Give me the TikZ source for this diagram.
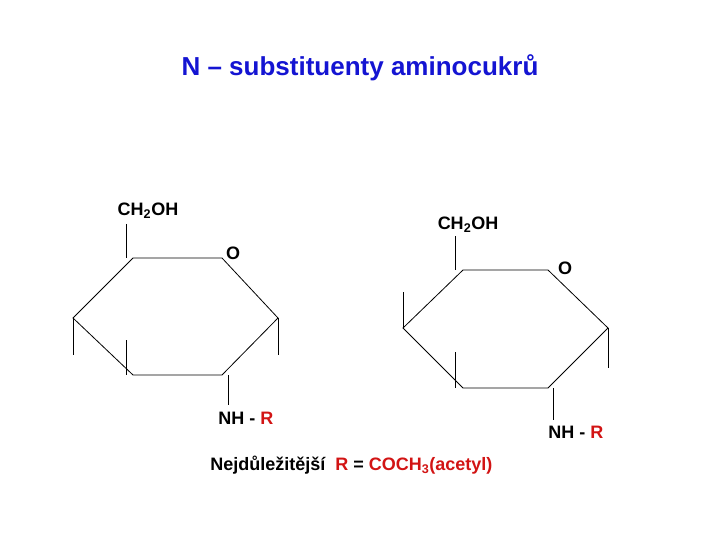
\documentclass[tikz,border=0pt]{standalone}
\usepackage{fontspec}
\setmainfont{Liberation Sans}
\definecolor{titleblue}{RGB}{20,20,210}
\definecolor{rred}{RGB}{210,20,20}
\tikzset{lbl/.style={font=\bfseries\fontsize{18}{21}\selectfont,inner sep=0pt}}
\begin{document}
\begin{tikzpicture}[x=1pt,y=-1pt,line width=0.8pt]
    \useasboundingbox (0,0) rectangle (720,540);

    \node[font=\bfseries\fontsize{26}{30}\selectfont,text=titleblue](title) at (360,68) {N -- substituenty aminocukrů};

    % left ring
    \coordinate (la) at (73,318);
    \coordinate (lb) at (133,258);
    \coordinate (lc) at (222,258);
    \coordinate (ld) at (278,318);
    \coordinate (le) at (222,375);
    \coordinate (lf) at (133,375);
    \draw (la) -- (lb) -- (lc) -- (ld) -- (le) -- (lf) -- cycle;
    \node[lbl](lch) at (148,211) {CH\textsubscript{2}OH};
    \node[lbl](lo) at (233,253) {O};
    \node[lbl,anchor=west](lnh) at (218,418) {NH - \textcolor{rred}{R}};
    \draw (126,224) -- (126,258);
    \draw (73,318) -- (73,355);
    \draw (278,318) -- (278,355);
    \draw (126,340) -- (126,375);
    \draw (228,375) -- (228,405);

    % right ring
    \coordinate (ra) at (403,328);
    \coordinate (rb) at (463,270);
    \coordinate (rc) at (548,270);
    \coordinate (rd) at (608,328);
    \coordinate (re) at (548,388);
    \coordinate (rf) at (463,388);
    \draw (ra) -- (rb) -- (rc) -- (rd) -- (re) -- (rf) -- cycle;
    \node[lbl](rch) at (468,225) {CH\textsubscript{2}OH};
    \node[lbl](ro) at (565,268) {O};
    \node[lbl,anchor=west](rnh) at (548,432) {NH - \textcolor{rred}{R}};
    \draw (455,236) -- (455,270);
    \draw (403,292) -- (403,328);
    \draw (608,328) -- (608,368);
    \draw (455,352) -- (455,388);
    \draw (553,388) -- (553,420);

    \node[lbl,anchor=west](note) at (210,465) {Nejdůležitější\ \ \textcolor{rred}{R} = \textcolor{rred}{COCH\textsubscript{3}(acetyl)}};
\end{tikzpicture}
\end{document}
